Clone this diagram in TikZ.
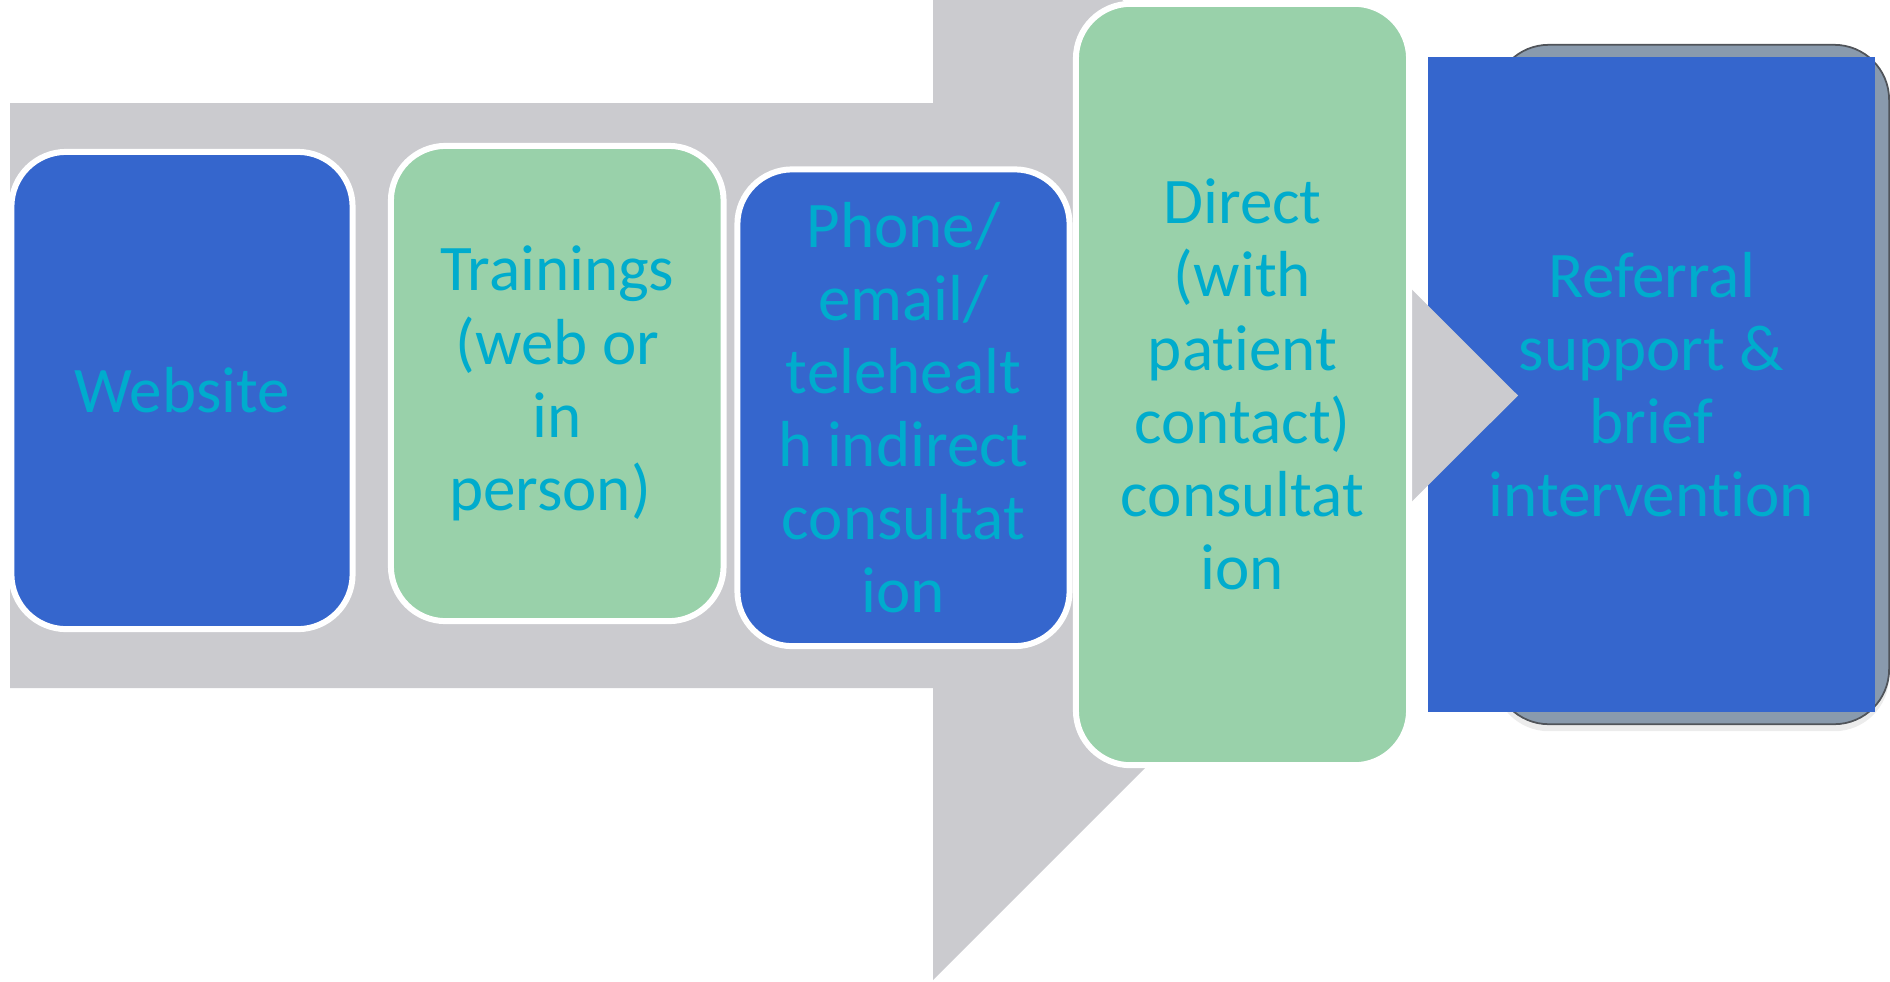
\documentclass[tikz,border=0pt]{standalone}
\usepackage{fontspec}
\setmainfont{Carlito}[Ligatures={NoCommon}]
\usetikzlibrary{shadows}
\definecolor{arrowgray}{RGB}{203,203,207}
\definecolor{boxblue}{RGB}{53,102,205}
\definecolor{boxgreen}{RGB}{153,209,170}
\definecolor{slategray}{RGB}{137,154,173}
\definecolor{textcyan}{RGB}{0,172,205}
\tikzset{
  stagebox/.style={draw=white, line width=1.7pt, rounded corners=15.6pt, inner sep=0pt},
  bluebox/.style={stagebox, fill=boxblue},
  greenbox/.style={stagebox, fill=boxgreen},
  label/.style={text=textcyan, align=center, font=\fontsize{18.5pt}{20.8pt}\selectfont, inner sep=0pt}
}
\begin{document}
\begin{tikzpicture}[x=0.01cm,y=-0.01cm]
\useasboundingbox (0,0) rectangle (1890,981);
\clip (0,0) rectangle (1890,981);
% fifth stage: rounded back plate and blue panel
\node[draw={rgb,255:red,80;green,84;blue,90}, line width=0.5pt, fill=slategray, rounded corners=15.6pt,
      minimum width=3.95cm, minimum height=6.79cm, inner sep=0pt,
      drop shadow={opacity=0.15, shadow xshift=0pt, shadow yshift=-2pt}] (plate) at (1691.5,384.5) {};
\node[fill=boxblue, minimum width=4.47cm, minimum height=6.55cm, inner sep=0pt] (panel) at (1651.5,384.5) {};
% big background arrow
\fill[arrowgray] (10,103) -- (933,103) -- (933,-189) -- (1518,395.5) -- (933,980) -- (933,688) -- (10,688) -- cycle;
% stage boxes
\node[bluebox, minimum width=3.41cm, minimum height=4.77cm] (web) at (182,390.5) {};
\node[greenbox, minimum width=3.325cm, minimum height=4.75cm] (train) at (557.25,383.5) {};
\node[bluebox, minimum width=3.32cm, minimum height=4.765cm] (phone) at (903.5,407.75) {};
\node[greenbox, minimum width=3.33cm, minimum height=7.61cm] (direct) at (1242.5,384.5) {};
% labels
\node[label] (webt) at (web.center) {Website};
\node[label] (traint) at (train.center) {Trainings\\(web or\\in\\person)\hphantom{\ }};
\node[label] (phonet) at (phone.center) {Phone/\\email/\\telehealt\\h indirect\\consultat\\ion};
\node[label] (directt) at (direct.center) {Direct\\(with\\patient\\contact)\\consultat\\ion};
\node[label] (reft) at (panel.center) {Referral\\support \&\\brief\\intervention};
\end{tikzpicture}
\end{document}
